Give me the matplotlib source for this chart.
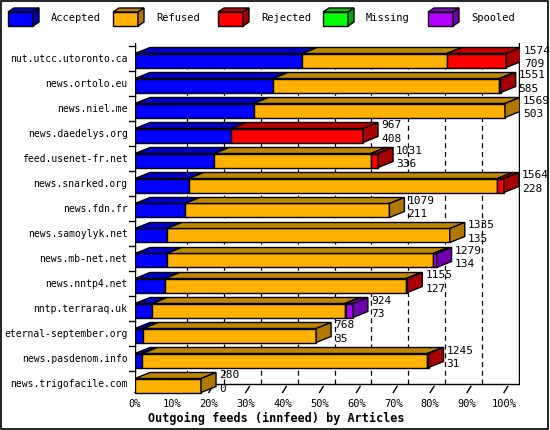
import matplotlib
matplotlib.use("Agg")
import matplotlib.pyplot as plt
from matplotlib.patches import Polygon, Rectangle

hosts = ["nut.utcc.utoronto.ca", "news.ortolo.eu", "news.niel.me", "news.daedelys.org",
         "feed.usenet-fr.net", "news.snarked.org", "news.fdn.fr", "news.samoylyk.net",
         "news.mb-net.net", "news.nntp4.net", "nntp.terraraq.uk", "eternal-september.org",
         "news.pasdenom.info", "news.trigofacile.com"]
totals   = [1574, 1551, 1569, 967, 1031, 1564, 1079, 1335, 1279, 1155, 924, 768, 1245, 280]
accepted = [709, 585, 503, 408, 336, 228, 211, 135, 134, 127, 73, 35, 31, 0]
refused  = [614, 960, 1066, 0, 664, 1309, 868, 1200, 1130, 1023, 817, 733, 1209, 280]
rejected = [251, 6, 0, 559, 31, 27, 0, 0, 0, 5, 4, 0, 5, 0]
missing  = [0] * 14
spooled  = [0, 0, 0, 0, 0, 0, 0, 0, 15, 0, 30, 0, 0, 0]
series_names = ["Accepted", "Refused", "Rejected", "Missing", "Spooled"]
ticks = [0, 10, 20, 30, 40, 50, 60, 70, 80, 90, 100]
scale_max = 1565

front = ["#0000ff", "#ffb000", "#ff0000", "#00ff00", "#b000ff"]
dark  = ["#0000a8", "#b07800", "#a80000", "#00a800", "#7000b0"]
topc  = ["#0000c8", "#c08800", "#c00000", "#00c800", "#8800c8"]

W, H = 550, 430
fig = plt.figure(figsize=(W/100, H/100), dpi=100)
fig.patch.set_facecolor("white")
fig.add_artist(Rectangle((0.002, 0.002), 0.995, 0.995, transform=fig.transFigure,
                         fill=False, ec="black", lw=1.2))
mono = "DejaVu Sans Mono"

x0, x1, ytop, ybot = 135, 520, 43, 397
ax = fig.add_axes([x0/W, 1-ybot/H, (x1-x0)/W, (ybot-ytop)/H])
pxper = 3.69
xmax = (x1-x0)/pxper
nrows = (ybot-ytop)/25.0
ax.set_xlim(0, xmax)
ax.set_ylim(nrows-0.6, -0.6)
ax.axis("off")
dx = 15/pxper
dy = 6/25.0
bh = 14/25.0

floor_y = 13 + bh/2
ax.plot([xmax-0.3, xmax-0.3], [floor_y-dy, -0.6], color="black", lw=1, zorder=1)
ax.plot([0, 0], [floor_y, -0.6], color="black", lw=1, zorder=1)
for t in ticks[1:-1]:
    ax.plot([t+dx, t+dx], [floor_y-dy, -0.4], color="black", lw=0.9, ls=(0, (4, 3)), zorder=1)
ax.plot([dx, xmax], [floor_y-dy, floor_y-dy], color="black", lw=1, zorder=1)
for t in ticks:
    ax.plot([t, t+dx*0.25], [floor_y+0.1, floor_y-dy*0.6], color="black", lw=1, zorder=1, clip_on=False)
for i in range(len(hosts)):
    ax.plot([-1.5, 0], [i-0.5, i-0.5], color="black", lw=1, clip_on=False)

data = [accepted, refused, rejected, missing, spooled]
for i in range(len(hosts)):
    left = 0.0
    yt = i - bh/2 + 0.1
    yb = i + bh/2 + 0.1
    segs = []
    for s in range(5):
        w = data[s][i] / scale_max * 100
        if w > 0:
            segs.append((s, left, w))
        left += w
    for s, l, w in segs:
        ax.barh(i + 0.1, w, left=l, height=bh, color=front[s], edgecolor="black", lw=1, zorder=3)
        ax.add_patch(Polygon([(l, yt), (l+dx, yt-dy), (l+w+dx, yt-dy), (l+w, yt)],
                             closed=True, fc=topc[s], ec="black", lw=1, zorder=3))
    if segs:
        s, l, w = segs[-1]
        e = l + w
        ax.add_patch(Polygon([(e, yt), (e+dx, yt-dy), (e+dx, yb-dy), (e, yb)],
                             closed=True, fc=dark[s], ec="black", lw=1, zorder=3))
        ax.text(e+dx+0.8, i-0.3, str(totals[i]), fontsize=8, family=mono, va="center", zorder=4)
        ax.text(e+dx+0.8, i+0.25, str(accepted[i]), fontsize=8, family=mono, va="center", zorder=4)
    ax.text(-2.0, i + 0.05, hosts[i], fontsize=7, family=mono, ha="right", va="center")

for t in ticks:
    ax.text(t, floor_y+0.55, f"{t}%", fontsize=7.5, family=mono, ha="center", va="center", clip_on=False)
ax.text(3.5, floor_y+1.15, "Outgoing feeds (innfeed) by Articles", fontsize=8.5,
        family=mono, weight="bold", ha="left", va="center", clip_on=False)

lx = [8, 113, 218, 323, 428]
for k in range(5):
    x = lx[k]/W
    y = 1 - 26/H
    w, h, d = 25/W, 14/H, 6/W
    fig.add_artist(Polygon([(x, y), (x+w, y), (x+w, y+h), (x, y+h)], closed=True,
                           fc=front[k], ec="black", lw=1, transform=fig.transFigure))
    fig.add_artist(Polygon([(x, y+h), (x+d, y+h+4/H), (x+w+d, y+h+4/H), (x+w, y+h)], closed=True,
                           fc=topc[k], ec="black", lw=1, transform=fig.transFigure))
    fig.add_artist(Polygon([(x+w, y), (x+w+d, y+4/H), (x+w+d, y+h+4/H), (x+w, y+h)], closed=True,
                           fc=dark[k], ec="black", lw=1, transform=fig.transFigure))
    fig.text(x+w+d+12/W, y+h/2+1/H, series_names[k], fontsize=7.5, family=mono, va="center")

fig.savefig("out.png", dpi=100)
